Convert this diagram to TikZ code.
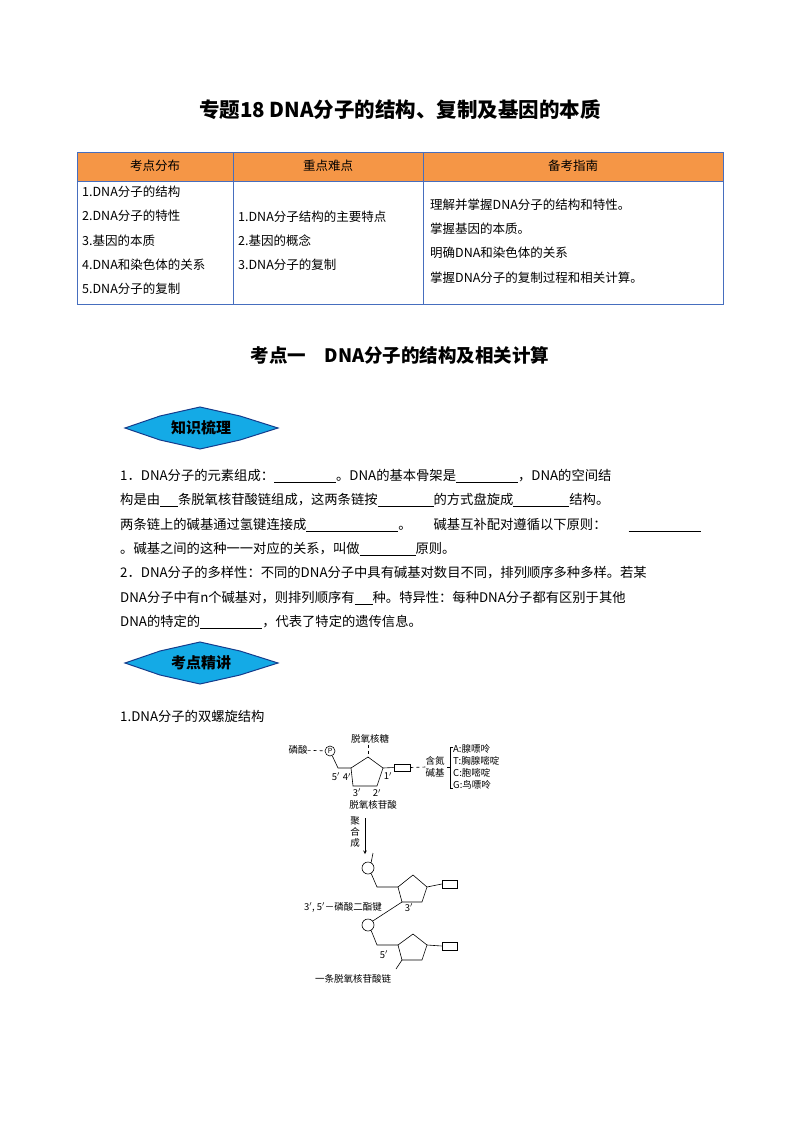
\documentclass[tikz,border=0pt]{standalone}
\usepackage{fontspec}
\setmainfont{Noto Sans CJK SC}
\usetikzlibrary{decorations.pathreplacing}
\definecolor{hdr}{RGB}{245,150,70}
\definecolor{tblue}{RGB}{70,110,190}
\definecolor{badge}{RGB}{20,170,230}
\definecolor{bdark}{RGB}{20,60,140}
\newcommand{\bl}[1]{\underline{\hspace{#1}}}
\begin{document}
\begin{tikzpicture}[x=1pt,y=-1pt,
  body/.style={anchor=west,inner sep=0,font=\fontsize{13.3}{15}\selectfont},
  cell/.style={anchor=west,inner sep=0,font=\fontsize{12.5}{14}\selectfont},
  small/.style={inner sep=0,font=\fontsize{9.5}{11}\selectfont},
  badgeshape/.style={fill=badge,draw=bdark,line width=1pt},
  thin/.style={line width=0.6pt}]
\useasboundingbox (0,0) rectangle (800,1132);
\node[font=\fontsize{20.5}{24}\selectfont\bfseries] (title) at (400,110) {专题18 DNA分子的结构、复制及基因的本质};
% table
\fill[hdr] (77,152) rectangle (723,181);
\draw[tblue,line width=1pt] (77,152) rectangle (723,304);
\draw[tblue,line width=1pt] (77,181) -- (723,181) (233,152) -- (233,304) (423,152) -- (423,304);
\node[font=\fontsize{12.5}{14}\selectfont] (h1) at (155,166) {考点分布};
\node[font=\fontsize{12.5}{14}\selectfont] (h2) at (328,166) {重点难点};
\node[font=\fontsize{12.5}{14}\selectfont] (h3) at (573,166) {备考指南};
\node[cell] (a1) at (82,192) {1.DNA分子的结构};
\node[cell] (a2) at (82,216) {2.DNA分子的特性};
\node[cell] (a3) at (82,241) {3.基因的本质};
\node[cell] (a4) at (82,265) {4.DNA和染色体的关系};
\node[cell] (a5) at (82,289) {5.DNA分子的复制};
\node[cell] (b1) at (238,217) {1.DNA分子结构的主要特点};
\node[cell] (b2) at (238,241) {2.基因的概念};
\node[cell] (b3) at (238,265) {3.DNA分子的复制};
\node[cell] (c1) at (430,205) {理解并掌握DNA分子的结构和特性。};
\node[cell] (c2) at (430,229) {掌握基因的本质。};
\node[cell] (c3) at (430,253) {明确DNA和染色体的关系};
\node[cell] (c4) at (430,278) {掌握DNA分子的复制过程和相关计算。};
\node[font=\fontsize{18.5}{22}\selectfont\bfseries] (sec) at (400,355) {考点一\quad DNA分子的结构及相关计算};
% badges
\foreach \cy/\txt/\nm in {428/知识梳理/bA, 663/考点精讲/bB}{
  \draw[badgeshape] (125,\cy) -- (160,\cy-12) -- (200,\cy-21) -- (240,\cy-12) -- (278,\cy) -- (240,\cy+12) -- (200,\cy+21) -- (160,\cy+12) -- cycle;
  \node[font=\fontsize{15}{17}\selectfont\bfseries,text=black] (\nm) at (201,\cy) {\txt};
}
% body text
\node[body] (l1) at (120,476) {1．DNA分子的元素组成：\bl{62pt}。DNA的基本骨架是\bl{62pt}，DNA的空间结};
\node[body] (l2) at (120,500) {构是由\bl{18pt}条脱氧核苷酸链组成，这两条链按\bl{56pt}的方式盘旋成\bl{56pt}结构。};
\node[body] (l3) at (120,525) {两条链上的碱基通过氢键连接成\bl{92pt}。\hspace{22pt}碱基互补配对遵循以下原则：\hspace{22pt}\bl{72pt}};
\node[body] (l4) at (120,549) {。碱基之间的这种一一对应的关系，叫做\bl{56pt}原则。};
\node[body] (l5) at (120,573) {2．DNA分子的多样性：不同的DNA分子中具有碱基对数目不同，排列顺序多种多样。若某};
\node[body] (l6) at (120,598) {DNA分子中有\textit{n}个碱基对，则排列顺序有\bl{18pt}种。特异性：每种DNA分子都有区别于其他};
\node[body] (l7) at (120,622) {DNA的特定的\bl{62pt}，代表了特定的遗传信息。};
\node[body] (l8) at (120,716) {1.DNA分子的双螺旋结构};
% diagram top nucleotide
\coordinate (t1) at (368,757); \coordinate (t2) at (383,768); \coordinate (t3) at (377,786);
\coordinate (t4) at (353,786); \coordinate (t5) at (351,768);
\draw[thin] (t1) -- (t2) -- (t3) -- (t4) -- (t5) -- cycle;
\node[small] (sugar) at (370,739) {脱氧核糖};
\draw[thin,dashed] (sugar.south) ++(-2,1) coordinate (sg) -- (t1);
\node[draw,circle,thin,inner sep=0,minimum size=10pt,font=\fontsize{7}{8}\selectfont] (P) at (330,751) {P};
\node[small] (phos) at (298,750) {磷酸};
\draw[thin,dashed] (phos) -- (P);
\coordinate (pk) at (338,768);
\draw[thin] (P) -- (pk) -- (t5);
\node[draw,thin,minimum width=16pt,minimum height=7pt,inner sep=0] (box0) at (402,767.5) {};
\draw[thin] (t2) -- (box0.west);
\node[small,align=center] (base) at (435,767) {含氮\\[1pt]碱基};
\draw[thin,dashed] (box0.east) -- (base.west);
\draw[thin] (453,747) -- (450,747) -- (450,788) -- (453,788) (450,767) -- (447,767);
\node[small,anchor=west] (A) at (453,749) {A:腺嘌呤};
\node[small,anchor=west] (T) at (453,761) {T:胸腺嘧啶};
\node[small,anchor=west] (C) at (453,773) {C:胞嘧啶};
\node[small,anchor=west] (G) at (453,785) {G:鸟嘌呤};
\node[small] (n5) at (336,777) {5$'$};
\node[small] (n4) at (347,777) {4$'$};
\node[small] (n1) at (388,776) {1$'$};
\node[small] (n3) at (357,793) {3$'$};
\node[small] (n2) at (377,793) {2$'$};
\node[small] (nuc) at (373,805) {脱氧核苷酸};
\coordinate (ar1) at (365,818); \coordinate (ar2) at (365,854);
\draw[thin,-stealth] (ar1) -- (ar2);
\node[small,align=center] (jhc) at (355,832) {聚\\合\\成};
% chain
\node[draw,circle,thin,inner sep=0,minimum size=12pt] (c1c) at (368,868) {};
\coordinate (tk) at (373,853);
\draw[thin] (c1c.60) -- (tk);
\coordinate (u1) at (413,875); \coordinate (u2) at (427,887); \coordinate (u3) at (422,902);
\coordinate (u4) at (402,902); \coordinate (u5) at (398,887);
\draw[thin] (u1) -- (u2) -- (u3) -- (u4) -- (u5) -- cycle;
\coordinate (k1) at (377,887);
\draw[thin] (c1c.300) -- (k1) -- (u5);
\node[draw,thin,minimum width=15pt,minimum height=8pt,inner sep=0] (box1) at (449.5,884) {};
\draw[thin] (u2) -- (box1.west);
\node[small] (m3) at (409,908) {3$'$};
\node[small] (lbl) at (343,907) {3$'$, 5$'$－磷酸二酯键};
\node[draw,circle,thin,inner sep=0,minimum size=12pt] (c2c) at (368,925) {};
\draw[thin] (u4) -- (c2c.40);
\coordinate (v1) at (413,934); \coordinate (v2) at (427,945); \coordinate (v3) at (422,960);
\coordinate (v4) at (402,960); \coordinate (v5) at (398,945);
\draw[thin] (v1) -- (v2) -- (v3) -- (v4) -- (v5) -- cycle;
\coordinate (k2) at (377,945);
\draw[thin] (c2c.300) -- (k2) -- (v5);
\node[draw,thin,minimum width=15pt,minimum height=8pt,inner sep=0] (box2) at (449.5,946) {};
\draw[thin] (v2) -- (box2.west);
\coordinate (tail) at (396,969);
\draw[thin] (v4) -- (tail);
\node[small] (m5) at (384,955) {5$'$};
\node[small] (chain) at (353,979) {一条脱氧核苷酸链};
\end{tikzpicture}
\end{document}
